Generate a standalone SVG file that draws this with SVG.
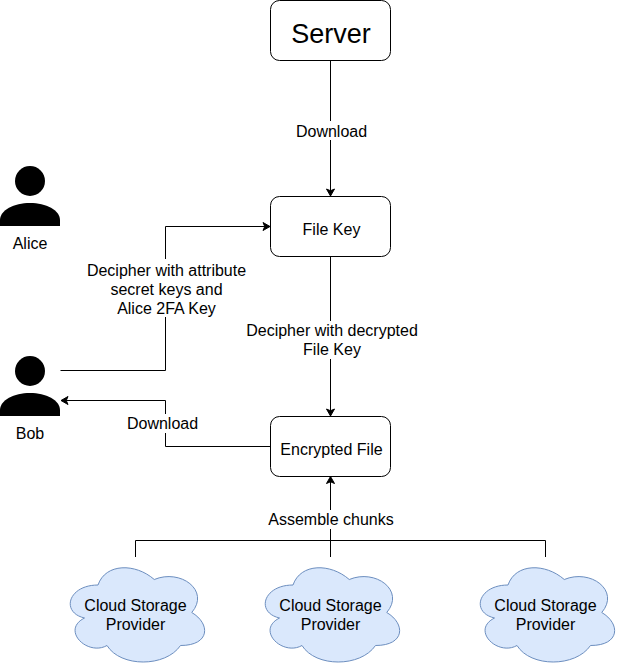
<svg xmlns="http://www.w3.org/2000/svg" width="621" height="668" viewBox="0 0 621 668">
<style>
text{font-family:"Liberation Sans",Arial,sans-serif;font-size:16px;fill:#000;text-anchor:middle}
.box{fill:#fff;stroke:#000;stroke-width:1}
.cloud{fill:#dae8fc;stroke:#6c8ebf;stroke-width:1}
.edge{fill:none;stroke:#000;stroke-width:1}
.bg{fill:#fff;stroke:none}
</style>
<defs>
<marker id="arrow" markerUnits="userSpaceOnUse" markerWidth="10" markerHeight="10" refX="7" refY="4" orient="auto" overflow="visible"><path d="M0 0 L7 4 L0 8 L1.75 4 Z" fill="#000" stroke="#000" stroke-width="1"/></marker>
<path id="cl" d="M37.5 27.5 C7.5 27.5 0 55 24 60.5 C0 72.6 27 99 46.5 88 C60 110 105 110 120 88 C150 88 150 66 131.25 55 C150 33 120 11 93.75 22 C75 5.5 45 5.5 37.5 27.5 Z"/>
<g id="per"><circle cx="30" cy="15" r="15"/><path d="M0 60 L0 54 C0 44 14 37 30 37 C46 37 60 44 60 54 L60 60 Z"/></g>
</defs>
<g id="connectors">
<path class="edge" marker-end="url(#arrow)" d="M330.5 60.5 V196"/>
<path class="edge" marker-end="url(#arrow)" d="M330.5 256.5 V416"/>
<path class="edge" marker-end="url(#arrow)" d="M60.5 370.5 H165.5 V226.5 H270"/>
<path class="edge" marker-end="url(#arrow)" d="M270.5 446.5 H165.5 V400.5 H61"/>
<path class="edge" marker-end="url(#arrow)" d="M330.5 557 V476.5"/>
<path class="edge" d="M135.5 557 V540.5 H545.5 V557"/>
<rect class="bg" x="295" y="121" width="74" height="19"/>
<rect class="bg" x="87" y="259" width="159" height="58"/>
<rect class="bg" x="246" y="321" width="172" height="38"/>
<rect class="bg" x="126" y="414" width="74" height="19"/>
<rect class="bg" x="268" y="510" width="127" height="19"/>
<text x="331.500" y="136.500">Download</text>
<text x="166.500" y="276">Decipher with attribute</text>
<text x="166.500" y="295">secret keys and</text>
<text x="166.500" y="314">Alice 2FA Key</text>
<text x="332" y="335.500">Decipher with decrypted</text>
<text x="332" y="355">File Key</text>
<text x="162.500" y="428.500">Download</text>
<text x="331" y="524.500">Assemble chunks</text>
</g>
<g id="server"><rect class="box" x="270.5" y="0.5" width="120" height="60" rx="9"/><text x="331" y="43" style="font-size:27px">Server</text></g>
<g id="filekey"><rect class="box" x="270.5" y="196.5" width="120" height="60" rx="9"/><text x="331.500" y="234.500">File Key</text></g>
<g id="encrypted"><rect class="box" x="270.5" y="416.5" width="120" height="60" rx="9"/><text x="331.500" y="454.500">Encrypted File</text></g>
<g id="alice"><use href="#per" x="0" y="166"/><text x="30" y="248.500">Alice</text></g>
<g id="bob"><use href="#per" x="0" y="356"/><text x="30" y="438.500">Bob</text></g>
<g id="cloud1"><use class="cloud" href="#cl" x="60.5" y="557.500"/><text x="135.500" y="610.500">Cloud Storage</text><text x="135.500" y="630">Provider</text></g>
<g id="cloud2"><use class="cloud" href="#cl" x="255.5" y="557.500"/><text x="330.500" y="610.500">Cloud Storage</text><text x="330.500" y="630">Provider</text></g>
<g id="cloud3"><use class="cloud" href="#cl" x="470.5" y="557.500"/><text x="545.500" y="610.500">Cloud Storage</text><text x="545.500" y="630">Provider</text></g>
</svg>
